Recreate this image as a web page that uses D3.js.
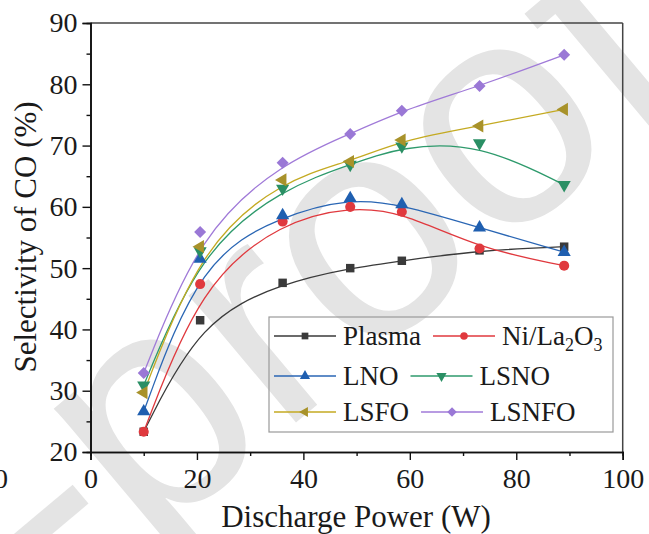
<!DOCTYPE html>
<html><head><meta charset="utf-8">
<script src="https://cdn.jsdelivr.net/npm/d3@7"></script>
<style>html,body{margin:0;padding:0;background:#fff;}svg{display:block;}</style>
</head><body>
<svg id="chart" width="649" height="534"></svg>
<script>
const power = [10, 20.6, 36.1, 48.8, 58.5, 73.1, 89];
const seriesNames = ["Plasma", "Ni/La2O3", "LNO", "LSNO", "LSFO", "LSNFO"];
const plasma = [23.3, 41.5, 47.6, 50.0, 51.2, 52.9, 53.5];
const niLa2O3 = [23.3, 47.4, 57.6, 60.0, 59.2, 53.2, 50.4];
const lno = [26.6, 51.5, 58.6, 61.4, 60.4, 56.6, 52.6];
const lsno = [30.9, 52.8, 63.0, 66.9, 69.9, 70.4, 63.6];
const lsfo = [29.7, 53.5, 64.4, 67.4, 70.9, 73.2, 75.9];
const lsnfo = [32.9, 55.9, 67.2, 71.9, 75.7, 79.7, 84.8];
const xTicks = [0, 20, 40, 60, 80, 100];
const yTicks = [20, 30, 40, 50, 60, 70, 80, 90];

const seriesValues = [plasma, niLa2O3, lno, lsno, lsfo, lsnfo];
const colors = ["#3a3a3a", "#e0393e", "#2a66b4", "#2e9a6c", "#c4aa22", "#a07ad8"];
const markerColors = ["#3a3a3a", "#e0393e", "#1f5fb0", "#2a8f64", "#a8922a", "#9a78d6"];
const shapes = ["square", "circle", "up", "down", "left", "diamond"];

const svg = d3.select("#chart");
const L = 90.5, R = 622.7, T = 23, B = 452;
const x = d3.scaleLinear().domain([0, 100]).range([L, R]);
const y = d3.scaleLinear().domain([20, 90]).range([B, T]);
const serif = "'Liberation Serif','Times New Roman',serif";

// watermark (underneath)
svg.append("text")
  .attr("transform", "rotate(-40)")
  .attr("x", -837).attr("y", 514)
  .attr("font-family", "'Liberation Sans',Arial,sans-serif")
  .attr("font-size", 315)
  .attr("fill", "#e4e4e4")
  .text("Pre-proof");

function symbolPath(shape, size) {
  let s;
  if (shape === "square" || shape === "diamond") s = d3.symbolSquare;
  else if (shape === "circle") s = d3.symbolCircle;
  else s = d3.symbolTriangle;
  return d3.symbol().type(s).size(size)();
}
function symbolRot(shape) {
  return shape === "down" ? 180 : shape === "left" ? -90 : shape === "diamond" ? 45 : 0;
}

// frame top/right
svg.append("line").attr("x1", L).attr("x2", R).attr("y1", T).attr("y2", T).attr("stroke", "#444").attr("stroke-width", 1.5);
svg.append("line").attr("x1", R).attr("x2", R).attr("y1", T).attr("y2", B).attr("stroke", "#444").attr("stroke-width", 1.5);

// axes
const gx = svg.append("g").attr("transform", `translate(0,${B})`)
  .call(d3.axisBottom(x).tickValues(xTicks).tickSize(8).tickPadding(8).tickFormat(d3.format("d")));
const gxm = svg.append("g").attr("transform", `translate(0,${B})`)
  .call(d3.axisBottom(x).tickValues([10, 30, 50, 70, 90]).tickSize(4).tickFormat(""));
const gy = svg.append("g").attr("transform", `translate(${L},0)`)
  .call(d3.axisLeft(y).tickValues(yTicks).tickSize(8).tickPadding(5).tickFormat(d3.format("d")));
const gym = svg.append("g").attr("transform", `translate(${L},0)`)
  .call(d3.axisLeft(y).tickValues([25, 35, 45, 55, 65, 75, 85]).tickSize(4).tickFormat(""));
[gx, gxm, gy, gym].forEach(g => {
  g.select(".domain").attr("stroke", "#111").attr("stroke-width", 1.6);
  g.selectAll(".tick line").attr("stroke", "#111").attr("stroke-width", 1.4);
  g.selectAll("text").attr("font-family", serif).attr("font-size", 28).attr("fill", "#1a1a1a");
});

// axis titles
svg.append("text").attr("x", 356).attr("y", 527).attr("text-anchor", "middle")
  .attr("font-family", serif).attr("font-size", 31).attr("fill", "#1a1a1a")
  .text("Discharge Power (W)");
svg.append("text").attr("transform", "rotate(-90)").attr("x", -237).attr("y", 36)
  .attr("text-anchor", "middle").attr("font-family", serif).attr("font-size", 31).attr("fill", "#1a1a1a")
  .text("Selectivity of CO (%)");

// cut-off label from neighbouring panel
svg.append("text").attr("x", -6).attr("y", 488).attr("font-family", serif).attr("font-size", 28).attr("fill", "#1a1a1a").text("0");

// curves and markers
const line = d3.line().x(d => x(d[0])).y(d => y(d[1])).curve(d3.curveBasis);
seriesValues.forEach((vals, i) => {
  const pts = power.map((p, j) => [p, vals[j]]);
  svg.append("path").attr("d", line(pts)).attr("fill", "none")
    .attr("stroke", colors[i]).attr("stroke-width", 1.3);
});
seriesValues.forEach((vals, i) => {
  const pts = power.map((p, j) => [p, vals[j]]);
  svg.append("g").selectAll("path").data(pts).join("path")
    .attr("d", symbolPath(shapes[i], shapes[i] === "circle" ? 80 : shapes[i] === "square" || shapes[i] === "diamond" ? 72 : 75))
    .attr("transform", d => `translate(${x(d[0])},${y(d[1])}) rotate(${symbolRot(shapes[i])})`)
    .attr("fill", markerColors[i]);
});

// legend
const lg = svg.append("g");
lg.append("rect").attr("x", 269).attr("y", 317).attr("width", 344).attr("height", 115)
  .attr("fill", "none").attr("stroke", "#9a9a9a").attr("stroke-width", 1.2);
const rowY = [336, 376, 412];
function legendEntry(i, x0, cy) {
  const len = 62;
  lg.append("line").attr("x1", x0).attr("x2", x0 + len).attr("y1", cy).attr("y2", cy)
    .attr("stroke", colors[i]).attr("stroke-width", 1.3);
  lg.append("path").attr("d", symbolPath(shapes[i], 45))
    .attr("transform", `translate(${x0 + len / 2},${cy}) rotate(${symbolRot(shapes[i])})`)
    .attr("fill", markerColors[i]);
  const t = lg.append("text").attr("x", x0 + len + 7).attr("y", cy + 9)
    .attr("font-family", serif).attr("font-size", 27).attr("fill", "#1a1a1a");
  const name = seriesNames[i];
  if (name === "Ni/La2O3") {
    t.append("tspan").text("Ni/La");
    t.append("tspan").attr("font-size", 18).attr("dy", 6).text("2");
    t.append("tspan").attr("dy", -6).text("O");
    t.append("tspan").attr("font-size", 18).attr("dy", 6).text("3");
  } else t.text(name);
  return x0 + len + 7 + t.node().getComputedTextLength();
}
for (let r = 0; r < 3; r++) {
  const end = legendEntry(r * 2, 274, rowY[r]);
  legendEntry(r * 2 + 1, end + 12, rowY[r]);
}
</script>
</body></html>
